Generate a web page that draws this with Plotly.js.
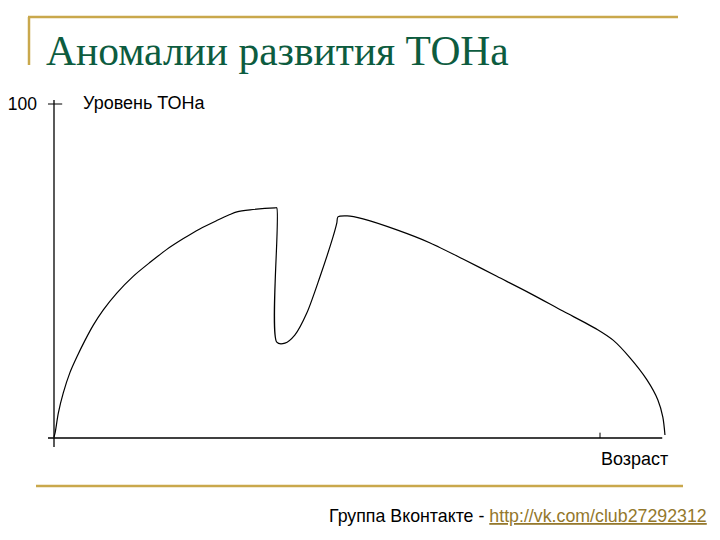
<!DOCTYPE html>
<html>
<head>
<meta charset="utf-8">
<script src="https://cdn.plot.ly/plotly-3.0.1.min.js"></script>
<style>html,body{margin:0;padding:0;background:#fff;}#chart{width:720px;height:540px;}</style>
</head>
<body>
<div id="chart"></div>
<script>
// Data: age (x) vs TONUS level (y)
const ageX = [0, 0.2, 0.8, 1.7, 2.9, 4.2, 5.7, 7.2, 9.0, 11.5, 14.5, 17.6, 20.6, 23.7, 26.7, 29.8, 32.2, 33.5, 35.9, 40.5, 40.8,
              40.8, 42.3, 44.1, 46.3, 48.7, 51.1, 51.8, 52.0, 53.7, 56.6, 62.8, 68.9, 74.9, 81.1, 87.2, 93.2,
              99.5, 102.4, 105.5, 108.6, 110.6, 111.5, 111.9];
const tonY = [0.3, 1.5, 7.5, 13.5, 19.5, 24.3, 29.3, 33.8, 38.3, 43.4, 48.4, 52.6, 56.4, 59.7, 62.6, 65.1, 66.9, 67.7, 68.3, 68.9, 68.9,
              28.7, 28.4, 30.8, 37.4, 48.2, 60.2, 64.4, 66.2, 66.5, 65.6, 62.3, 58.4, 53.6, 48.4, 43.3, 38.0,
              32.5, 29.3, 24.0, 17.4, 11.4, 6.3, 0.9];
const yTickVals = [100];
const yTickText = ['100'];
const xTickVals = [100];
const titleText = 'Аномалии развития ТОНа';
const yLabel = 'Уровень ТОНа';
const xLabel = 'Возраст';
const footerText = 'Группа Вконтакте - ';
const footerLink = 'http://vk.com/club27292312';

const W = 720, H = 540, M = {l: 40, r: 40, t: 90, b: 80};
const pw = W - M.l - M.r, ph = H - M.t - M.b;
const px = v => (v - M.l) / pw;
const py = v => (H - M.b - v) / ph;
const gold = '#c9a84c';

const shapes = [
  // axis lines
  {type: 'line', xref: 'x', yref: 'y', x0: -1.1, x1: 111.4, y0: 0, y1: 0, line: {color: '#000', width: 1.3}},
  {type: 'line', xref: 'x', yref: 'y', x0: 0, x1: 0, y0: -2.7, y1: 101.2, line: {color: '#000', width: 1.3}},
  // decorative gold lines
  {type: 'line', xref: 'paper', yref: 'paper', x0: px(28), x1: px(678), y0: py(17), y1: py(17), line: {color: gold, width: 2.5}},
  {type: 'line', xref: 'paper', yref: 'paper', x0: px(29), x1: px(29), y0: py(17), y1: py(65), line: {color: gold, width: 2.5}},
  {type: 'line', xref: 'paper', yref: 'paper', x0: px(36), x1: px(683), y0: py(486), y1: py(486), line: {color: gold, width: 2.5}}
];
yTickVals.forEach(v => shapes.push({type: 'line', xref: 'x', yref: 'y', x0: -1.1, x1: 1.5, y0: v, y1: v, line: {color: '#000', width: 1}}));
xTickVals.forEach(v => shapes.push({type: 'line', xref: 'x', yref: 'y', x0: v, x1: v, y0: 0, y1: 1.6, line: {color: '#000', width: 1}}));

const data = [{
  x: ageX, y: tonY, type: 'scatter', mode: 'lines',
  line: {color: '#000', width: 1.2, shape: 'spline', smoothing: 0.8}, hoverinfo: 'skip'
}];

const layout = {
  width: W, height: H, margin: M,
  paper_bgcolor: '#fff', plot_bgcolor: '#fff', showlegend: false,
  font: {family: 'Liberation Sans, Arial, sans-serif', size: 18, color: '#000'},
  title: {text: titleText, font: {family: 'Liberation Serif, Times New Roman, serif', size: 41.5, color: '#0d5c3f'},
          x: 46 / W, xref: 'container', xanchor: 'left', y: 1 - 50 / H, yref: 'container', yanchor: 'middle'},
  xaxis: {range: [(M.l - 54) / 5.46, (W - M.r - 54) / 5.46], showgrid: false, zeroline: false, showline: false,
          showticklabels: false, ticks: '', fixedrange: true},
  yaxis: {range: [(438 - (H - M.b)) / 3.34, (438 - M.t) / 3.34], showgrid: false, zeroline: false, showline: false,
          tickvals: yTickVals, ticktext: yTickText, ticks: '', ticklabelstandoff: 2,
          tickfont: {size: 17.5, color: '#000'}, fixedrange: true},
  shapes: shapes,
  annotations: [
    {xref: 'x', yref: 'y', x: 5.0, y: 100.3, text: yLabel, showarrow: false, xanchor: 'left', yanchor: 'middle',
     font: {size: 18, color: '#000'}},
    {xref: 'x', yref: 'y', x: 99.9, y: -6.3, text: xLabel, showarrow: false, xanchor: 'left', yanchor: 'middle',
     font: {size: 18, color: '#000'}},
    {xref: 'paper', yref: 'paper', x: px(327), y: py(516), showarrow: false, xanchor: 'left', yanchor: 'middle',
     text: footerText + '<span style="color:#94782c"><u>' + footerLink + '</u></span>',
     font: {size: 17.8, color: '#000'}}
  ]
};

Plotly.newPlot('chart', data, layout, {displayModeBar: false, staticPlot: true});
</script>
</body>
</html>
